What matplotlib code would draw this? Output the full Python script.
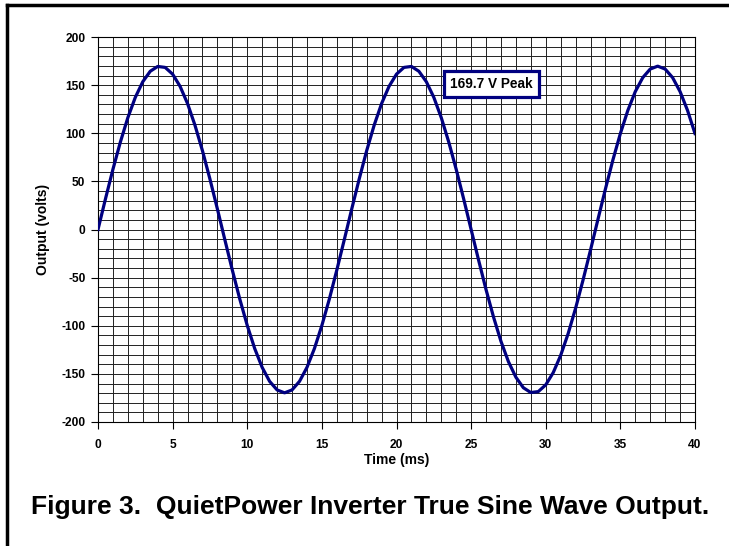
import matplotlib
matplotlib.use("Agg")
import matplotlib.pyplot as plt
from matplotlib.lines import Line2D
from matplotlib.ticker import MultipleLocator

### ---Data (every 0.5 ms)
time_ms = [i * 0.5 for i in range(81)]
volts = [
    0, 31.8, 62.5, 90.9, 116.2, 137.3, 153.5, 164.4, 169.4, 168.4,
    161.4, 148.7, 130.8, 108.2, 81.8, 52.4, 21.3, -10.7, -42.2, -72.3,
    -99.7, -123.7, -143.3, -157.8, -166.7, -169.7, -166.7, -157.8, -143.3, -123.7,
    -99.7, -72.3, -42.2, -10.7, 21.3, 52.4, 81.8, 108.2, 130.8, 148.7,
    161.4, 168.4, 169.4, 164.4, 153.5, 137.3, 116.2, 90.9, 62.5, 31.8,
    0, -31.8, -62.5, -90.9, -116.2, -137.3, -153.5, -164.4, -169.4, -168.4,
    -161.4, -148.7, -130.8, -108.2, -81.8, -52.4, -21.3, 10.7, 42.2, 72.3,
    99.7, 123.7, 143.3, 157.8, 166.7, 169.7, 166.7, 157.8, 143.3, 123.7,
    99.7,
]
peak_label = "169.7 V Peak"
caption = "Figure 3.  QuietPower Inverter True Sine Wave Output."

plt.rcParams['font.family'] = ['Liberation Sans', 'DejaVu Sans']
plt.rcParams['font.weight'] = 'bold'
plt.rcParams['axes.unicode_minus'] = False

fig = plt.figure(figsize=(7.29, 5.46), dpi=100)
ax = fig.add_axes([98/729, 1-422/546, 597/729, 385/546])

ax.plot(time_ms, volts, color='#000080', lw=2.3, zorder=3)

ax.set_xlim(0, 40)
ax.set_ylim(-200, 200)
ax.xaxis.set_major_locator(MultipleLocator(5))
ax.yaxis.set_major_locator(MultipleLocator(50))
ax.xaxis.set_minor_locator(MultipleLocator(1))
ax.yaxis.set_minor_locator(MultipleLocator(10))
ax.grid(which='both', color='#222222', lw=0.7)
ax.tick_params(which='major', length=5, width=0.8, labelsize=8.6, pad=4)
ax.tick_params(axis='x', which='major', pad=7)
ax.tick_params(which='minor', length=0)
for lab in ax.get_xticklabels() + ax.get_yticklabels():
    lab.set_fontweight('bold')
for s in ax.spines.values():
    s.set_linewidth(0.8)

ax.set_xlabel('Time (ms)', fontsize=10, fontweight='bold', labelpad=2)
ax.set_ylabel('Output (volts)', fontsize=10, fontweight='bold', labelpad=8)

ax.text(26.35, 151.5, peak_label, ha='center', va='center', fontsize=9.8,
        fontweight='bold', zorder=5,
        bbox=dict(boxstyle='square,pad=0.45', fc='white', ec='#000080', lw=2.3))

fig.text(370/729, 1-507/546, caption, ha='center', va='center',
         fontsize=19, fontweight='bold')

# outer frame (right and bottom run off the picture)
fig.add_artist(Line2D([7/729, 7/729], [0, 1-5/546], color='black', lw=2.5))
fig.add_artist(Line2D([7/729, 1], [1-5/546, 1-5/546], color='black', lw=2.5))

fig.savefig('out.png', dpi=100)
